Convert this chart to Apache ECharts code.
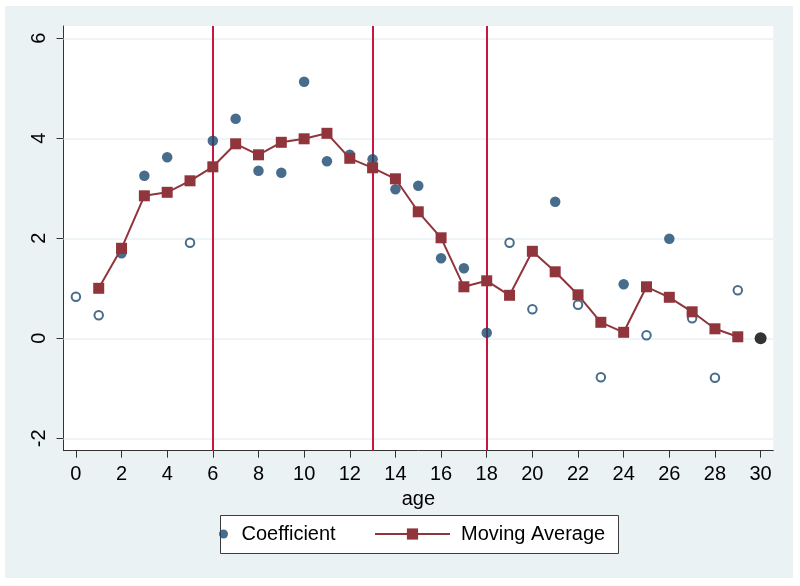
<!DOCTYPE html>
<html><head><meta charset="utf-8">
<script src="https://cdn.jsdelivr.net/npm/echarts@6/dist/echarts.min.js"></script>
<style>
html,body{margin:0;padding:0;background:#fff;}
#wrap{position:relative;width:800px;height:586px;background:#fff;}
#bg{position:absolute;left:5px;top:6px;width:788px;height:572px;background:#eaf2f3;}
#c{position:absolute;left:0;top:0;width:800px;height:586px;}
</style>
</head><body>
<div id="wrap"><div id="bg"></div><div id="c"></div></div>
<script>
// ---- data ----
const ages = [0,1,2,3,4,5,6,7,8,9,10,11,12,13,14,15,16,17,18,19,20,21,22,23,24,25,26,27,28,29];
const coefficient = [0.83,0.46,1.70,3.25,3.62,1.91,3.95,4.39,3.35,3.31,5.13,3.54,3.67,3.58,2.98,3.05,1.60,1.40,0.11,1.91,0.58,2.73,0.67,-0.78,1.08,0.06,1.99,0.40,-0.79,0.96];
const significant = [0,0,1,1,1,0,1,1,1,1,1,1,1,1,1,1,1,1,1,0,0,1,0,0,1,0,1,0,0,0];
const maAges = [1,2,3,4,5,6,7,8,9,10,11,12,13,14,15,16,17,18,19,20,21,22,23,24,25,26,27,28,29];
const movingAverage = [1.00,1.80,2.85,2.92,3.15,3.43,3.89,3.67,3.92,3.99,4.10,3.60,3.41,3.19,2.53,2.01,1.03,1.15,0.86,1.74,1.33,0.87,0.32,0.12,1.03,0.82,0.53,0.19,0.03];
const referenceAge = [30];
const referenceValue = [0];
const schoolStarts = [6,13,18];
const schoolLabels = ['Primary','Secondary','University'];
const schoolLabelX = [8.25,15.4,20.75];
const schoolLabelY = [0.14,0.20,0.22];
const xTicks = [0,2,4,6,8,10,12,14,16,18,20,22,24,26,28,30];
const yTicks = [-2,0,2,4,6];

const NAVY = '#1a476f', MAROON = '#90353b', XLINE = '#c8163e', GRIDC = '#eaf2f3';
const FONT = 'Liberation Sans, Arial, sans-serif';

const filledData = [], hollowData = [];
ages.forEach((a, i) => (significant[i] ? filledData : hollowData).push([a, coefficient[i]]));
const maData = maAges.map((a, i) => [a, movingAverage[i]]);
const refData = referenceAge.map((a, i) => [a, referenceValue[i]]);
const annoData = schoolLabels.map((s, i) => ({name: s, value: [schoolLabelX[i], schoolLabelY[i]]}));

const chart = echarts.init(document.getElementById('c'), null, {renderer: 'canvas'});
chart.setOption({
  animation: false,
  backgroundColor: 'transparent',
  textStyle: {fontFamily: FONT},
  grid: {left: 63.5, right: 26.7, top: 26, bottom: 135.3, show: true, backgroundColor: '#fff', borderWidth: 0},
  xAxis: {
    type: 'value', min: -0.543, max: 30.556,
    name: 'age', nameLocation: 'middle', nameGap: 33,
    nameTextStyle: {fontSize: 20, color: '#000', fontFamily: FONT},
    axisLine: {show: true, onZero: false, lineStyle: {color: '#333', width: 1}},
    axisTick: {show: true, length: 7, lineStyle: {color: '#333'}, customValues: xTicks},
    axisLabel: {show: true, fontSize: 20, color: '#000', margin: 14, customValues: xTicks, fontFamily: FONT},
    splitLine: {show: false}
  },
  yAxis: {
    type: 'value', min: -2.248, max: 6.246,
    axisLine: {show: true, onZero: false, lineStyle: {color: '#333', width: 1}},
    axisTick: {show: true, length: 7, lineStyle: {color: '#333'}, customValues: yTicks},
    axisLabel: {show: true, fontSize: 20, color: '#000', rotate: 90, margin: 14, customValues: yTicks, fontFamily: FONT},
    splitLine: {show: false}
  },
  legend: [
    {
      data: [{name: 'Coefficient', icon: 'circle'}],
      left: 219, top: 524, itemWidth: 26, itemHeight: 9, padding: 0,
      textStyle: {fontSize: 20, color: '#000', fontFamily: FONT},
      selectedMode: false
    },
    {
      data: [{name: 'Moving Average'}],
      left: 374, top: 524, itemWidth: 75, itemHeight: 14, padding: 0,
      textStyle: {fontSize: 20, color: '#000', fontFamily: FONT, padding: [0,0,0,6]},
      selectedMode: false
    }
  ],
  graphic: [
    {type: 'rect', left: 220, top: 515, z: 0, shape: {width: 398, height: 38},
     style: {fill: '#fff', stroke: '#3c3c3c', lineWidth: 1}}
  ],
  series: [
    {
      name: 'guides', type: 'line', data: [], z: 1, silent: true,
      markLine: {
        silent: true, z: 1, symbol: ['none','none'], label: {show: false}, animation: false,
        data: yTicks.map(v => ({yAxis: v, lineStyle: {color: GRIDC, width: 1.5, type: 'solid'}}))
          .concat(schoolStarts.map(v => ({xAxis: v, lineStyle: {color: XLINE, width: 2, type: 'solid'}})))
      }
    },
    {
      name: 'Coefficient', type: 'scatter', data: filledData, z: 6,
      symbol: 'circle', symbolSize: 10.5, itemStyle: {color: NAVY}
    },
    {
      name: 'Coefficient (n.s.)', type: 'scatter', data: hollowData, z: 6,
      symbol: 'circle', symbolSize: 8.5, itemStyle: {color: '#fff', borderColor: NAVY, borderWidth: 2}
    },
    {
      name: 'Moving Average', type: 'line', data: maData, z: 7,
      symbol: 'rect', symbolSize: 11, showSymbol: true,
      lineStyle: {color: MAROON, width: 2}, itemStyle: {color: MAROON}
    },
    {
      name: 'reference', type: 'scatter', data: refData, z: 8,
      symbol: 'circle', symbolSize: 12, itemStyle: {color: '#000'}
    },
    {
      name: 'labels', type: 'scatter', data: annoData, z: 8, silent: true,
      symbolSize: 1, itemStyle: {opacity: 0},
      label: {show: true, position: 'inside', formatter: '{b}', color: '#000', fontSize: 16, fontFamily: FONT}
    }
  ]
});
</script>
</body></html>
